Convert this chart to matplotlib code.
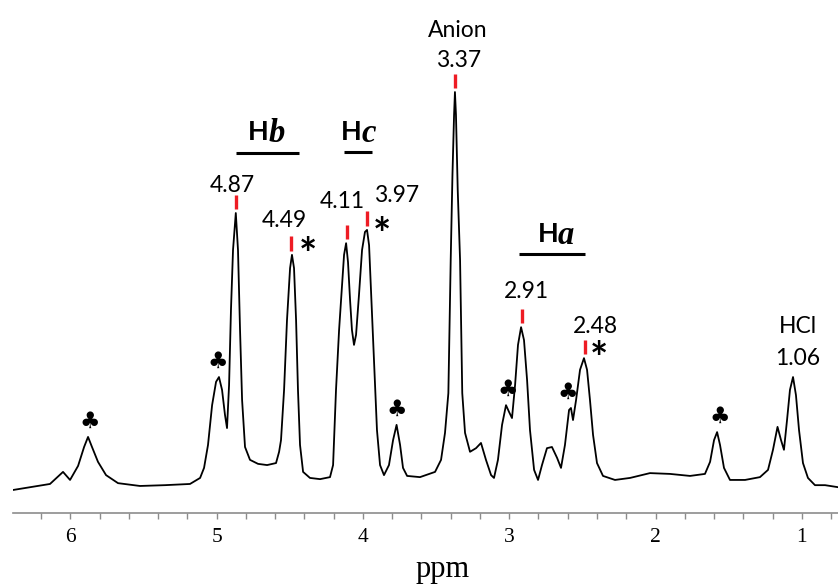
import numpy as np
import matplotlib
matplotlib.use("Agg")
import matplotlib.pyplot as plt
from matplotlib.ticker import MultipleLocator, FixedLocator

# ---------------- data ----------------
ppm = [6.392, 6.275, 6.139, 6.050, 6.002, 5.947, 5.906, 5.879, 5.852, 5.811,
       5.756, 5.674, 5.524, 5.353, 5.182, 5.113, 5.086, 5.059, 5.031, 5.004,
       4.984, 4.963, 4.943, 4.929, 4.915, 4.902, 4.888, 4.869, 4.854, 4.840,
       4.826, 4.806, 4.772, 4.717, 4.655, 4.594, 4.573, 4.560, 4.539, 4.519,
       4.498, 4.485, 4.471, 4.457, 4.444, 4.430, 4.409, 4.362, 4.293, 4.225,
       4.204, 4.184, 4.163, 4.143, 4.129, 4.115, 4.102, 4.088, 4.075, 4.061,
       4.047, 4.027, 4.006, 3.986, 3.972, 3.958, 3.945, 3.924, 3.904, 3.883,
       3.856, 3.822, 3.794, 3.770, 3.746, 3.726, 3.698, 3.610, 3.507, 3.466,
       3.439, 3.416, 3.400, 3.388, 3.377, 3.371, 3.364, 3.352, 3.336, 3.321,
       3.302, 3.268, 3.227, 3.193, 3.159, 3.124, 3.104, 3.077, 3.049, 3.022,
       3.001, 2.981, 2.960, 2.940, 2.919, 2.899, 2.878, 2.858, 2.830, 2.803,
       2.776, 2.742, 2.708, 2.673, 2.646, 2.619, 2.591, 2.578, 2.564, 2.543,
       2.516, 2.489, 2.468, 2.448, 2.427, 2.400, 2.359, 2.277, 2.174, 2.038,
       1.901, 1.764, 1.662, 1.627, 1.600, 1.579, 1.559, 1.532, 1.491, 1.388,
       1.286, 1.231, 1.197, 1.166, 1.142, 1.122, 1.101, 1.081, 1.060, 1.040,
       1.019, 0.992, 0.958, 0.910, 0.841, 0.753]
intensity = [0.0, 0.7, 1.5, 4.5, 2.5, 6.0, 10.7, 13.2, 10.7, 7.0,
             3.7, 1.7, 1.0, 1.2, 1.5, 3.0, 5.5, 11.2, 21.1, 26.9,
             28.1, 24.9, 18.7, 15.4, 26.1, 44.8, 59.7, 68.9, 59.7, 39.8,
             22.4, 10.7, 7.5, 6.5, 6.2, 6.7, 9.5, 12.4, 24.9, 42.3,
             55.2, 58.5, 55.2, 42.3, 24.9, 11.2, 4.5, 3.0, 2.7, 3.2,
             6.2, 24.9, 39.8, 51.0, 58.5, 61.4, 56.7, 47.3, 39.8, 36.1,
             38.6, 48.5, 59.7, 64.2, 64.7, 60.9, 49.8, 32.3, 14.9, 6.2,
             3.7, 6.2, 12.4, 16.2, 11.2, 5.5, 3.5, 3.2, 4.5, 7.5,
             14.2, 24.1, 57.2, 78.4, 93.3, 99.0, 93.3, 74.6, 57.2, 24.1,
             14.2, 9.5, 10.4, 11.7, 7.5, 3.7, 3.0, 7.5, 16.2, 21.1,
             19.4, 17.9, 26.1, 36.1, 40.5, 37.3, 27.4, 14.9, 5.0, 2.5,
             6.2, 10.4, 10.7, 8.0, 5.5, 11.2, 19.9, 20.4, 17.4, 22.4,
             29.9, 32.8, 29.9, 22.4, 13.7, 6.7, 3.5, 2.5, 3.0, 4.2,
             4.0, 3.5, 4.0, 7.0, 12.4, 14.4, 11.2, 5.5, 2.5, 2.5,
             3.2, 5.0, 10.0, 15.7, 12.4, 10.0, 17.4, 24.9, 28.1, 23.6,
             14.9, 6.7, 3.0, 1.2, 1.2, 0.7]

peak_ppm = [4.87, 4.49, 4.11, 3.97, 3.37, 2.91, 2.48, 1.06]
peak_labels = ["4.87", "4.49", "4.11", "3.97", "3.37", "2.91", "2.48", "1.06"]
peak_names = {"3.37": "Anion", "1.06": "HCl"}
starred = ["4.49", "3.97", "2.48"]
club_ppm = [5.87, 4.99, 3.77, 3.01, 2.60, 1.56]
groups = [("b", 4.87, 4.44), ("c", 4.13, 3.94), ("a", 2.93, 2.48)]
xticks_major = [6, 5, 4, 3, 2, 1]
xlabel = "ppm"

# ---------------- layout / style ----------------
W, H, DPI = 838, 585, 100
SANS = ["Lato", "DejaVu Sans"]
SERIF = "Liberation Serif"
RED = "#ee1c24"
GRAY = "#8c8c8c"

fig = plt.figure(figsize=(W / DPI, H / DPI), dpi=DPI)
ax = fig.add_axes([12.7 / W, (H - 512.7) / H, (W - 12.7) / W, 512.7 / H])
ax.set_xlim(6.394, 0.7526)
ax.set_ylim(-5.65, 121.9)

ax.plot(ppm, intensity, color="black", lw=1.3, solid_joinstyle="round")

for s in ["top", "left", "right"]:
    ax.spines[s].set_visible(False)
ax.spines["bottom"].set_color(GRAY)
ax.spines["bottom"].set_linewidth(1.2)
ax.set_yticks([])
ax.xaxis.set_major_locator(FixedLocator(xticks_major))
ax.xaxis.set_minor_locator(MultipleLocator(0.2))
ax.set_xticklabels([str(t) for t in xticks_major])
ax.tick_params(axis="x", which="both", direction="out", length=4.2, width=1.0,
               color=GRAY, pad=6.5)
for lab in ax.get_xticklabels():
    lab.set_fontfamily(SERIF)
    lab.set_fontsize(15.5)
ax.set_xlabel(xlabel, fontfamily=SERIF, fontsize=22)
ax.xaxis.set_label_coords((442.5 - 12.7) / (W - 12.7), -(577 - 512.7) / 512.7)
ax.xaxis.label.set_va("baseline")

p_arr = np.array(ppm)
i_arr = np.array(intensity)


def local_max(x0, win=0.03):
    m = (p_arr > x0 - win) & (p_arr < x0 + win)
    return i_arr[m].max()


# pixel offsets for the labels (dx, dy of baseline from peak top)
label_off = {"4.87": (-3, 21), "4.49": (-7, 28), "4.11": (-5, 35), "3.97": (29, 28),
             "3.37": (3, 25), "2.91": (4, 29), "2.48": (10, 25), "1.06": (5, 12)}
name_off = {"3.37": 55, "1.06": 44}
star_off = {"4.49": (17, -14), "3.97": (15, -19), "2.48": (14, -15)}

for p, lab in zip(peak_ppm, peak_labels):
    top = local_max(p)
    dx, dy = label_off[lab]
    ax.annotate(lab, xy=(p, top), xytext=(dx, dy), textcoords="offset pixels",
                ha="center", va="baseline", fontsize=16.5, fontfamily=SANS)
    if lab in peak_names:
        ax.annotate(peak_names[lab], xy=(p, top), xytext=(dx, name_off[lab]),
                    textcoords="offset pixels", ha="center", va="baseline",
                    fontsize=16.5, fontfamily=SANS)
    if lab != "1.06":
        ax.plot([p, p], [top + 4 / 4.02, top + 18.5 / 4.02], color=RED, lw=2.4,
                solid_capstyle="butt")
    if lab in starred:
        sx, sy = star_off[lab]
        ax.annotate("*", xy=(p, top), xytext=(sx, sy), textcoords="offset pixels",
                    ha="center", va="baseline", fontsize=31, fontweight="bold",
                    fontfamily=SANS)

for c in club_ppm:
    ax.annotate("\u2663", xy=(c, local_max(c)), xytext=(0, 9),
                textcoords="offset pixels", ha="center", va="baseline",
                fontsize=16.5, fontfamily="DejaVu Sans")

# group headings H_a, H_b, H_c with underline
line_y = {"b": local_max(4.87) + (213 - 153) / 4.02,
          "c": local_max(4.87) + (213 - 152) / 4.02,
          "a": local_max(2.91) + (327 - 254) / 4.02}
for letter, p1, p2 in groups:
    ax.plot([p1, p2], [line_y[letter]] * 2, color="black", lw=2.2,
            solid_capstyle="butt")

heading_pos = {"b": (4.642, 87.1), "c": (4.006, 87.1), "a": (2.663, 61.7)}
for letter, _, _ in groups:
    hx, hy = heading_pos[letter]
    ax.text(hx, hy, "H", ha="right", va="baseline", fontsize=19.5,
            fontweight="bold", fontfamily=SANS)
    ax.text(hx + 0.005, hy - 0.5, letter, ha="left", va="baseline", fontsize=23.5,
            fontweight="bold", fontstyle="italic", fontfamily=SERIF)

fig.savefig("out.png", dpi=DPI)
